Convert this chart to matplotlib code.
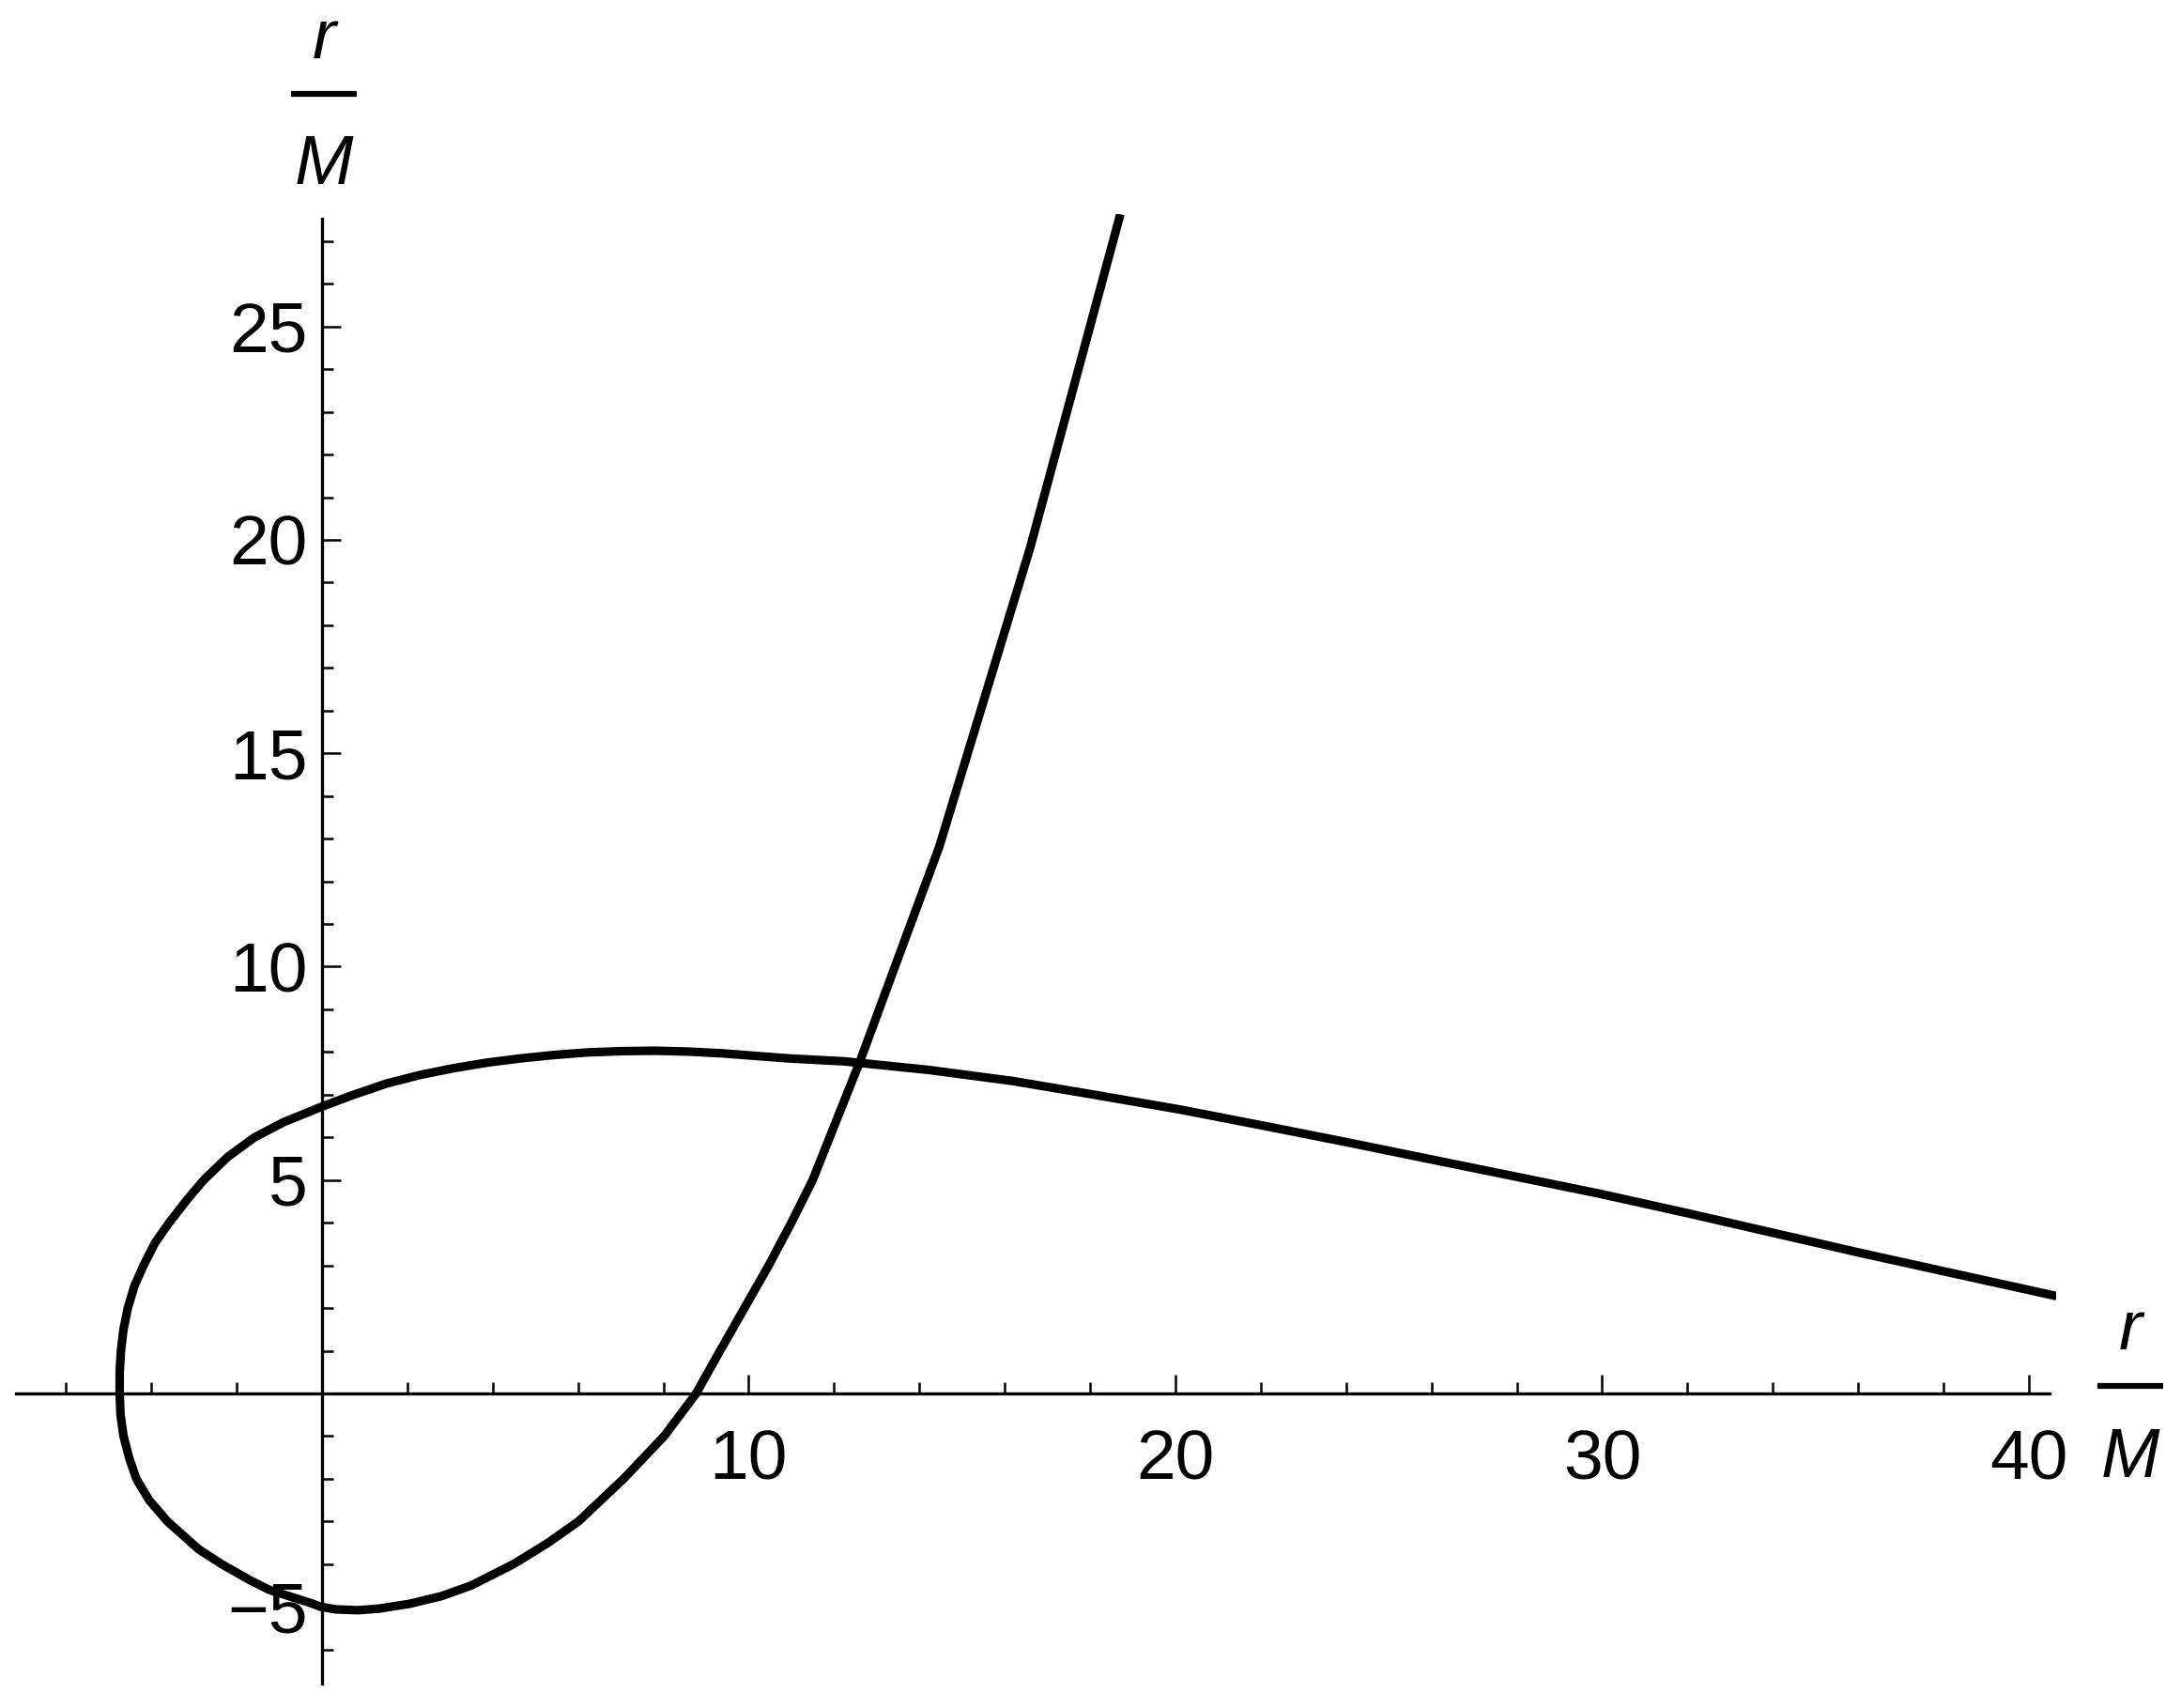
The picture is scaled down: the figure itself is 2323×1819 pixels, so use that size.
import matplotlib
matplotlib.use("Agg")
import matplotlib.pyplot as plt
from matplotlib.lines import Line2D

# ---- data (units of r/M), traced along the orbit ----
orbit_x = [18.71, 16.60, 14.47, 12.60, 11.50, 11.00, 10.47, 9.90, 9.33, 8.77,
           8.02, 7.07, 6.01, 5.30, 4.49, 3.50, 2.80, 2.05, 1.36, 0.85, 0.33,
           -0.03, -0.21, -1.24, -1.68, -2.35, -2.89, -3.62, -4.05, -4.35, -4.52,
           -4.65, -4.72, -4.74, -4.74, -4.71, -4.65, -4.55, -4.39, -4.18, -3.91,
           -3.58, -3.16, -2.77, -2.21, -1.58, -0.89, 0.00, 0.72, 1.51, 2.29,
           3.08, 3.86, 4.65, 5.44, 6.22, 7.01, 7.80, 8.58, 9.37, 10.15,
           10.94, 12.26, 12.65, 14.22, 16.19, 18.15, 20.12, 22.08, 24.05, 26.01,
           27.98, 29.94, 32.06, 36.02, 40.65]
orbit_y = [27.63, 19.83, 12.82, 7.76, 5.00, 4.00, 3.00, 2.00, 1.00, 0.00,
           -1.00, -2.00, -3.00, -3.50, -4.00, -4.50, -4.75, -4.93, -5.04, -5.08, -5.06,
           -5.00, -4.93, -4.60, -4.38, -4.00, -3.65, -3.00, -2.50, -2.00, -1.50,
           -1.00, -0.50, 0.00, 0.50, 1.00, 1.50, 2.00, 2.53, 3.00, 3.53,
           4.00, 4.54, 5.00, 5.54, 6.00, 6.36, 6.72, 6.99, 7.26, 7.46,
           7.62, 7.75, 7.85, 7.93, 7.99, 8.02, 8.03, 8.01, 7.97, 7.91,
           7.85, 7.78, 7.74, 7.58, 7.32, 6.99, 6.65, 6.27, 5.88, 5.48,
           5.08, 4.68, 4.21, 3.30, 2.28]

x_major = [10, 20, 30, 40]
x_major_labels = ["10", "20", "30", "40"]
x_minor = [-6, -4, -2, 2, 4, 6, 8, 12, 14, 16, 18, 22, 24, 26, 28, 32, 34, 36, 38]
y_major = [-5, 5, 10, 15, 20, 25]
y_major_labels = ["\u22125", "5", "10", "15", "20", "25"]
y_minor = [v for v in range(-6, 28) if v not in (-5, 0, 5, 10, 15, 20, 25)]
axis_label_num = "r"
axis_label_den = "M"

W, H = 2323, 1819
DPI = 100
fig = plt.figure(figsize=(W / DPI, H / DPI), dpi=DPI)
fig.patch.set_facecolor("white")

ax = fig.add_axes([0.00732, 0.01402, 0.93564, 0.86053])
ax.set_xlim(-7.17, 40.65)
ax.set_ylim(-6.81, 27.63)
ax.patch.set_alpha(0)

ax.plot(orbit_x, orbit_y, color="black", lw=6.6, solid_joinstyle="round",
        solid_capstyle="butt")

for s in ("top", "right"):
    ax.spines[s].set_visible(False)
ax.spines["left"].set_position(("data", 0))
ax.spines["bottom"].set_position(("data", 0))
ax.spines["left"].set_bounds(-6.81, 27.52)
ax.spines["bottom"].set_bounds(-7.17, 40.49)
for s in ("left", "bottom"):
    ax.spines[s].set_linewidth(2.4)
    ax.spines[s].set_color("black")

tick_font = dict(family=["Liberation Sans", "DejaVu Sans"], size=54)
ax.set_xticks(x_major)
ax.set_xticklabels(x_major_labels, fontdict=tick_font)
ax.set_xticks(x_minor, minor=True)
ax.set_yticks(y_major)
ax.set_yticklabels(y_major_labels, fontdict=tick_font)
ax.set_yticks(y_minor, minor=True)

ax.tick_params(axis="both", which="major", direction="in", length=14.4,
               width=1.8, color="black")
ax.tick_params(axis="both", which="minor", direction="in", length=8.6,
               width=1.8, color="black")
ax.tick_params(axis="x", which="major", pad=27)
ax.tick_params(axis="y", which="major", pad=11)

# axis labels r/M as stacked fractions
lab_font = dict(family=["Liberation Sans", "DejaVu Sans"], size=54,
                style="italic")

def frac_label(xc, y_num, y_bar, y_den, bar_x0, bar_x1):
    fig.text(xc, y_num, axis_label_num, ha="center", va="baseline", **lab_font)
    fig.text(xc, y_den, axis_label_den, ha="center", va="baseline", **lab_font)
    fig.add_artist(Line2D([bar_x0, bar_x1], [y_bar, y_bar], color="black",
                          lw=4.5, transform=fig.transFigure,
                          solid_capstyle="butt"))

frac_label(0.1485, 0.9659, 0.9450, 0.8922, 0.1334, 0.1636)
frac_label(0.9768, 0.2100, 0.1883, 0.1352, 0.9617, 0.9918)

fig.savefig("out.png", dpi=DPI, facecolor="white")
